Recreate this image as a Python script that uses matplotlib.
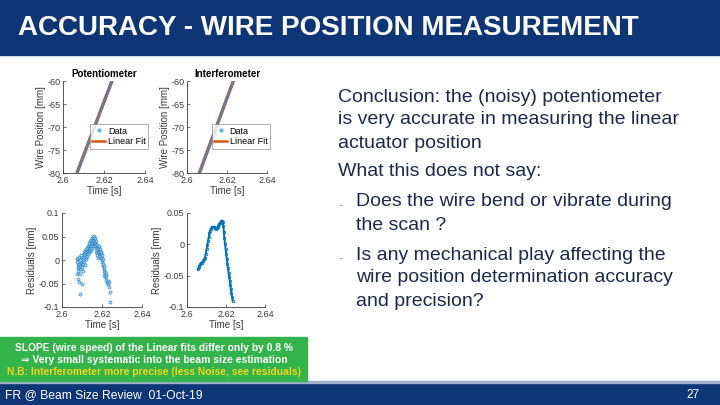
import matplotlib
matplotlib.use('Agg')
import matplotlib.pyplot as plt
from matplotlib.patches import Rectangle
from matplotlib.lines import Line2D

# ── Data ──────────────────────────────────────────────────────────────────────
# wire position vs time (samples along the scan)
pot_t   = [2.6068, 2.608, 2.609, 2.610, 2.611, 2.612, 2.613, 2.614, 2.615, 2.616,
           2.617, 2.618, 2.619, 2.620, 2.621, 2.622, 2.623, 2.624, 2.625]
pot_pos = [-80.0, -78.6, -77.4, -76.3, -75.1, -73.9, -72.7, -71.6, -70.4, -69.2,
           -68.1, -66.9, -65.7, -64.5, -63.4, -62.2, -61.0, -59.8, -58.7]
pot_fit_t   = [2.6068, 2.6250]
pot_fit_pos = [-80.0, -58.7]

int_t   = [2.606, 2.607, 2.608, 2.609, 2.610, 2.611, 2.612, 2.613, 2.614, 2.615,
           2.616, 2.617, 2.618, 2.619, 2.620, 2.621, 2.622, 2.623, 2.624]
int_pos = [-80.2, -79.1, -77.9, -76.7, -75.5, -74.4, -73.2, -72.0, -70.8, -69.6,
           -68.5, -67.3, -66.1, -64.9, -63.7, -62.6, -61.4, -60.2, -59.0]
int_fit_t   = [2.606, 2.624]
int_fit_pos = [-80.2, -59.0]

# residuals of the linear fits
pot_res_t = [2.6075, 2.6076, 2.6077, 2.6078, 2.6079, 2.6080, 2.6081, 2.6082,
             2.6084, 2.6085, 2.6086, 2.6087, 2.6088, 2.6090, 2.6091, 2.6092,
             2.6094, 2.6095, 2.6096, 2.6098, 2.6099, 2.6100, 2.6102, 2.6103,
             2.6105, 2.6106, 2.6108, 2.6109, 2.6110, 2.6112, 2.6113, 2.6115,
             2.6116, 2.6118, 2.6119, 2.6121, 2.6122, 2.6124, 2.6125, 2.6127,
             2.6128, 2.6130, 2.6131, 2.6133, 2.6134, 2.6136, 2.6137, 2.6139,
             2.6140, 2.6142, 2.6143, 2.6145, 2.6146, 2.6148, 2.6149, 2.6151,
             2.6152, 2.6154, 2.6155, 2.6157, 2.6158, 2.6160, 2.6161, 2.6163,
             2.6164, 2.6166, 2.6167, 2.6169, 2.6170, 2.6172, 2.6173, 2.6175,
             2.6176, 2.6178, 2.6179, 2.6181, 2.6182, 2.6184, 2.6185, 2.6187,
             2.6188, 2.6190, 2.6191, 2.6193, 2.6194, 2.6196, 2.6197, 2.6199,
             2.6200, 2.6202, 2.6203, 2.6205, 2.6206, 2.6208, 2.6209, 2.6211,
             2.6212, 2.6214, 2.6216, 2.6218, 2.6220, 2.6222, 2.6225, 2.6228,
             2.6232, 2.6235, 2.6237, 2.6238, 2.6240]
pot_res   = [-0.005, -0.030, 0.002, -0.018, -0.040, -0.010, 0.004, -0.024,
             -0.046, -0.008, -0.015, 0.006, -0.030, -0.012, -0.072, 0.000,
             -0.020, -0.006, 0.010, -0.052, -0.004, 0.004, -0.014, -0.024,
             0.002, -0.008, 0.012, -0.004, 0.016, 0.006, -0.010, 0.020,
             0.010, 0.002, 0.024, 0.014, 0.006, 0.026, 0.018, 0.008,
             0.030, 0.020, 0.012, 0.032, 0.024, 0.016, 0.036, 0.026,
             0.020, 0.040, 0.030, 0.022, 0.042, 0.034, 0.026, 0.046,
             0.036, 0.030, 0.050, 0.040, 0.032, 0.052, 0.042, 0.036,
             0.046, 0.038, 0.030, 0.040, 0.026, 0.018, 0.032, 0.022,
             0.010, 0.028, 0.016, 0.004, 0.026, 0.018, 0.008, 0.030,
             0.020, 0.012, 0.024, 0.014, 0.004, 0.018, 0.008, -0.004,
             0.010, 0.000, -0.012, 0.002, -0.008, -0.020, -0.012, -0.024,
             -0.032, -0.026, -0.036, -0.030, -0.042, -0.034, -0.048, -0.044,
             -0.052, -0.058, -0.046, -0.068, -0.090]

int_res_t = [2.6056, 2.6060, 2.6064, 2.6068, 2.6072, 2.6077, 2.6082, 2.6087,
             2.6092, 2.6096, 2.6100, 2.6104, 2.6108, 2.6112, 2.6115, 2.6118,
             2.6122, 2.6126, 2.6130, 2.6133, 2.6137, 2.6141, 2.6145, 2.6149,
             2.6153, 2.6157, 2.6161, 2.6164, 2.6168, 2.6172, 2.6176, 2.6180,
             2.6183, 2.6186, 2.6189, 2.6192, 2.6195, 2.6198, 2.6201, 2.6204,
             2.6207, 2.6210, 2.6213, 2.6216, 2.6219, 2.6222, 2.6225, 2.6228,
             2.6231, 2.6234]
int_res   = [-0.040, -0.036, -0.034, -0.031, -0.030, -0.029, -0.027, -0.024,
             -0.022, -0.015, -0.008, -0.001, 0.006, 0.012, 0.018, 0.022,
             0.025, 0.027, 0.028, 0.028, 0.027, 0.027, 0.026, 0.025,
             0.026, 0.028, 0.030, 0.033, 0.034, 0.035, 0.037, 0.038,
             0.036, 0.030, 0.020, 0.010, 0.000, -0.008, -0.016, -0.024,
             -0.031, -0.038, -0.045, -0.052, -0.058, -0.065, -0.072, -0.078,
             -0.084, -0.090]

pos_ticks = [-80, -75, -70, -65, -60]
time_ticks = [2.6, 2.62, 2.64]

body_lines = [
    'Conclusion: the (noisy) potentiometer',
    'is very accurate in measuring the linear',
    'actuator position',
    'What this does not say:',
]
bullet_lines = [
    ['Does the wire bend or vibrate during', 'the scan ?'],
    ['Is any mechanical play affecting the', 'wire position determination accuracy',
     'and precision?'],
]
note_lines = [
    'SLOPE (wire speed) of the Linear fits differ only by 0.8 %',
    '\u21d2 Very small systematic into the beam size estimation',
    'N.B: Interferometer more precise (less Noise, see residuals)',
]

# ── Style ─────────────────────────────────────────────────────────────────────
plt.rcParams['font.family'] = ['Liberation Sans', 'DejaVu Sans']
plt.rcParams['axes.unicode_minus'] = False
NAVY   = '#0e3677'
TEXT   = '#1b2a4c'
AXCOL  = '#3a3a3a'
DATA_C = '#4dbeee'
FIT_C  = '#d95319'
RES_C  = '#0072bd'

W, H = 720, 405
fig = plt.figure(figsize=(7.2, 4.05), dpi=100)


def box(x0, y0, x1, y1):
    return [x0 / W, 1 - y1 / H, (x1 - x0) / W, (y1 - y0) / H]


def fx(x):
    return x / W


def fy(y):
    return 1 - y / H


def style_axes(ax):
    for s in ['top', 'right']:
        ax.spines[s].set_visible(False)
    for s in ['left', 'bottom']:
        ax.spines[s].set_color(AXCOL)
        ax.spines[s].set_linewidth(0.6)
    ax.tick_params(direction='in', length=2, width=0.5, labelsize=6.5,
                   colors=AXCOL, pad=2)
    ax.set_xlim(2.6, 2.64)
    ax.set_xticks(time_ticks)
    ax.set_xticklabels(['2.6', '2.62', '2.64'])


# ── Header / footer ───────────────────────────────────────────────────────────
fig.patches.append(Rectangle((0, fy(55)), 1, 55 / H, transform=fig.transFigure,
                             color=NAVY, zorder=0))
fig.text(fx(18), fy(28), 'ACCURACY - WIRE POSITION MEASUREMENT', color='white',
         fontsize=20, fontweight='bold', va='center', ha='left')

fig.patches.append(Rectangle((0, 0), 1, 23 / H, transform=fig.transFigure,
                             color=NAVY, zorder=0))
fig.patches.append(Rectangle((0, 22.5 / H), 1, 1.2 / H, transform=fig.transFigure,
                             color='#9fb0cc', zorder=0))
fig.text(fx(5), fy(395), 'FR @ Beam Size Review  01-Oct-19', color='white',
         fontsize=8.7, va='center', ha='left')
fig.text(fx(700), fy(395), '27', color='white', fontsize=8.5, va='center', ha='right')

# ── Green note box ────────────────────────────────────────────────────────────
fig.patches.append(Rectangle((0, fy(381)), 307 / W, 44 / H, transform=fig.transFigure,
                             color='#33b44a', zorder=0))
note_y = [348, 360, 372]
note_c = ['white', 'white', '#f2d41c']
for txt, y, c in zip(note_lines, note_y, note_c):
    fig.text(fx(154), fy(y), txt, color=c, fontsize=7.4, fontweight='bold',
             ha='center', va='center')

# ── Top plots: wire position ──────────────────────────────────────────────────
tops = [
    (box(63, 81, 145, 173), 'Potentiometer', pot_t, pot_pos, pot_fit_t, pot_fit_pos),
    (box(187, 81, 267, 173), 'Interferometer', int_t, int_pos, int_fit_t, int_fit_pos),
]
for rect, title, t, p, ft, fp in tops:
    ax = fig.add_axes(rect)
    ax.plot(ft, fp, color=FIT_C, lw=2.4, solid_capstyle='butt')
    ax.plot(t, p, color='#6e6f8e', lw=1.9, solid_capstyle='butt')
    ax.plot(t, p, color=DATA_C, lw=0.8, ls=(0, (1, 1.5)), alpha=0.7)
    style_axes(ax)
    ax.set_ylim(-80, -60)
    ax.set_yticks(pos_ticks)
    ax.set_title(title, fontsize=7, fontweight='bold', pad=3, color='black')
    ax.set_ylabel('Wire Position [mm]', fontsize=7, color=AXCOL, labelpad=1)
    ax.set_xlabel('Time [s]', fontsize=7, color=AXCOL, labelpad=1)
    handles = [Line2D([], [], marker='.', ls='none', color=DATA_C, ms=4),
               Line2D([], [], color=FIT_C, lw=1.8)]
    leg = ax.legend(handles, ['Data', 'Linear Fit'], loc='lower right',
                    bbox_to_anchor=(1.04, 0.26), fontsize=6.5, frameon=True,
                    fancybox=False, borderpad=0.3, handlelength=1.4,
                    handletextpad=0.3, labelspacing=0.2, borderaxespad=0)
    leg.get_frame().set_edgecolor('#8a8a8a')
    leg.get_frame().set_linewidth(0.6)

# ── Bottom plots: residuals ───────────────────────────────────────────────────
ax = fig.add_axes(box(62, 213, 142, 307))
ax.scatter(pot_res_t, pot_res, s=5, facecolors='#a8cff0', edgecolors=RES_C,
           linewidths=0.5, alpha=0.75)
style_axes(ax)
ax.set_ylim(-0.1, 0.1)
ax.set_yticks([-0.1, -0.05, 0, 0.05, 0.1])
ax.set_yticklabels(['-0.1', '-0.05', '0', '0.05', '0.1'])
ax.set_ylabel('Residuals [mm]', fontsize=7, color=AXCOL, labelpad=1)
ax.set_xlabel('Time [s]', fontsize=7, color=AXCOL, labelpad=1)

ax = fig.add_axes(box(187, 213, 265, 307))
ax.plot(int_res_t, int_res, color=RES_C, lw=1.4, marker='o', ms=1.8,
        markerfacecolor='none', markeredgewidth=0.6)
style_axes(ax)
ax.set_ylim(-0.1, 0.05)
ax.set_yticks([-0.1, -0.05, 0, 0.05])
ax.set_yticklabels(['-0.1', '-0.05', '0', '0.05'])
ax.set_ylabel('Residuals [mm]', fontsize=7, color=AXCOL, labelpad=1)
ax.set_xlabel('Time [s]', fontsize=7, color=AXCOL, labelpad=1)

# ── Right-hand text ───────────────────────────────────────────────────────────
body_y = [97, 120, 144, 172]
for txt, y in zip(body_lines, body_y):
    fig.text(fx(338), fy(y), txt, color=TEXT, fontsize=14, ha='left', va='center')

bullet_y = [[202, 225], [255, 278, 302]]
for lines, ys in zip(bullet_lines, bullet_y):
    fig.text(fx(340), fy(ys[0] + 4), '-', color=TEXT, fontsize=6, ha='left',
             va='center')
    for txt, y in zip(lines, ys):
        fig.text(fx(356), fy(y), txt, color=TEXT, fontsize=14, ha='left',
                 va='center')

fig.savefig('out.png', dpi=100)
